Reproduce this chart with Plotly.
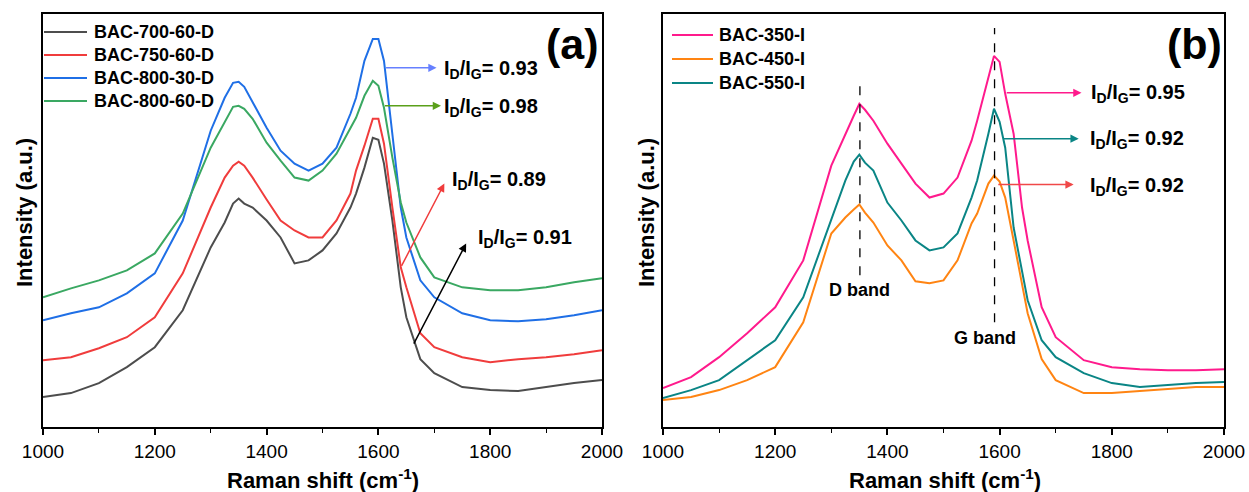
import plotly.graph_objects as go

W, H = 1249, 492

# ---------------- data (arbitrary intensity units) ----------------
xa = [1000, 1050, 1100, 1150, 1200, 1250, 1300, 1325, 1340, 1350, 1360, 1375, 1400, 1425, 1450,
      1475, 1500, 1525, 1550, 1560, 1575, 1590, 1600, 1610, 1625, 1640, 1650, 1675, 1700, 1750,
      1800, 1850, 1900, 1950, 2000]
bac_700_60_d = [30, 34, 44, 60, 80, 117, 180, 205, 224, 229, 224, 220, 207, 190, 164,
                167, 177, 194, 220, 234, 260, 290, 288, 264, 207, 140, 110, 68, 54, 40,
                37, 36, 40, 44, 47]
bac_750_60_d = [67, 70, 79, 90, 110, 154, 220, 250, 262, 266, 262, 250, 228, 207, 197,
                190, 190, 207, 234, 257, 282, 309, 309, 284, 220, 160, 140, 94, 80, 70,
                65, 68, 70, 73, 77]
bac_800_30_d = [107, 114, 120, 134, 154, 207, 297, 330, 345, 346, 341, 326, 300, 277, 264,
                257, 264, 280, 314, 330, 367, 389, 389, 367, 290, 220, 190, 147, 130, 114,
                107, 106, 108, 112, 117]
bac_800_60_d = [130, 139, 147, 157, 174, 214, 280, 306, 321, 322, 319, 309, 285, 267, 250,
                247, 257, 274, 300, 310, 332, 347, 342, 320, 270, 225, 205, 170, 150, 140,
                137, 137, 140, 145, 149]

xb = [1000, 1050, 1100, 1150, 1200, 1250, 1300, 1325, 1340, 1350, 1360, 1375, 1400, 1425, 1450,
      1475, 1500, 1525, 1550, 1560, 1580, 1590, 1600, 1610, 1625, 1640, 1650, 1675, 1700, 1750,
      1800, 1850, 1900, 1950, 2000]
bac_350_i = [39, 50, 70, 94, 120, 167, 262, 294, 312, 324, 318, 307, 284, 264, 244,
             230, 234, 250, 287, 307, 350, 372, 366, 334, 294, 220, 187, 120, 90, 67,
             60, 58, 57, 57, 58]
bac_450_i = [27, 30, 37, 47, 60, 105, 194, 210, 218, 223, 215, 205, 182, 167, 146,
             144, 147, 167, 204, 214, 244, 252, 246, 230, 187, 144, 114, 68, 47, 34,
             34, 36, 38, 40, 40]
bac_550_i = [29, 37, 47, 67, 87, 130, 207, 247, 266, 273, 265, 257, 225, 207, 187,
             177, 180, 194, 230, 247, 294, 319, 306, 280, 200, 154, 127, 87, 70, 54,
             44, 40, 42, 44, 45]

names_a = ["BAC-700-60-D", "BAC-750-60-D", "BAC-800-30-D", "BAC-800-60-D"]
colors_a = ["#4d4d4d", "#f03c3c", "#1f6fe6", "#3aa862"]
series_a = [bac_700_60_d, bac_750_60_d, bac_800_30_d, bac_800_60_d]

names_b = ["BAC-350-I", "BAC-450-I", "BAC-550-I"]
colors_b = ["#ff1a8c", "#ff8412", "#0a8585"]
series_b = [bac_350_i, bac_450_i, bac_550_i]

ratios_a = ["0.93", "0.98", "0.89", "0.91"]
ratios_b = ["0.95", "0.92", "0.92"]

# ---------------- figure ----------------
fig = go.Figure()
for n, c, s in zip(names_a, colors_a, series_a):
    fig.add_trace(go.Scatter(x=xa, y=s, name=n, mode="lines", line=dict(color=c, width=2),
                             xaxis="x", yaxis="y", showlegend=False))
for n, c, s in zip(names_b, colors_b, series_b):
    fig.add_trace(go.Scatter(x=xb, y=s, name=n, mode="lines", line=dict(color=c, width=2),
                             xaxis="x2", yaxis="y2", showlegend=False))


def px_x(p):
    return p / W


def px_y(p):
    return 1 - p / H


FONT = "Arial, Liberation Sans, sans-serif"
ydom = [px_y(427), px_y(14)]
axis_common = dict(range=[1000, 2000], dtick=200, tick0=1000, ticks="outside", ticklen=6, tickwidth=1.5,
                   tickcolor="black", showline=True, mirror=True, linewidth=2, linecolor="black",
                   showgrid=False, zeroline=False, automargin=False,
                   tickfont=dict(family=FONT, size=19, color="black"),
                   minor=dict(dtick=100, ticks="outside", ticklen=4, tickwidth=1.2, tickcolor="black"))
yaxis_common = dict(range=[0, 414], showticklabels=False, ticks="", showline=True, mirror=True,
                    linewidth=2, linecolor="black", showgrid=False, zeroline=False, automargin=False,
                    domain=ydom)

fig.update_layout(
    width=W, height=H, margin=dict(l=0, r=0, t=0, b=0),
    plot_bgcolor="white", paper_bgcolor="white",
    font=dict(family=FONT, color="black"),
    xaxis=dict(domain=[px_x(43), px_x(602)], anchor="y", **axis_common),
    yaxis=dict(anchor="x", **yaxis_common),
    xaxis2=dict(domain=[px_x(663), px_x(1224)], anchor="y2", **axis_common),
    yaxis2=dict(anchor="x2", **yaxis_common),
    showlegend=False,
)

bold = dict(family=FONT, color="black", weight="bold")

# legends (drawn by hand to match the original sample length)
leg_a_rows = [32, 55, 78, 101]
for n, c, yy in zip(names_a, colors_a, leg_a_rows):
    fig.add_shape(type="line", xref="paper", yref="paper", x0=px_x(44), x1=px_x(87),
                  y0=px_y(yy), y1=px_y(yy), line=dict(color=c, width=2))
    fig.add_annotation(xref="paper", yref="paper", x=px_x(92), y=px_y(yy), text=n, showarrow=False,
                       xanchor="left", yanchor="middle", font=dict(size=18, **bold))
leg_b_rows = [35, 59, 83]
for n, c, yy in zip(names_b, colors_b, leg_b_rows):
    fig.add_shape(type="line", xref="paper", yref="paper", x0=px_x(672), x1=px_x(713),
                  y0=px_y(yy), y1=px_y(yy), line=dict(color=c, width=2))
    fig.add_annotation(xref="paper", yref="paper", x=px_x(717), y=px_y(yy), text=n, showarrow=False,
                       xanchor="left", yanchor="middle", font=dict(size=18, **bold))

# axis titles
for cx in [323, 945]:
    fig.add_annotation(xref="paper", yref="paper", x=px_x(cx), y=px_y(479),
                       text="Raman shift (cm<sup>-1</sup>)", showarrow=False,
                       font=dict(size=22, **bold), xanchor="center", yanchor="middle")
for cx in [25, 647]:
    fig.add_annotation(xref="paper", yref="paper", x=px_x(cx), y=px_y(213),
                       text="Intensity (a.u.)", showarrow=False, textangle=-90,
                       font=dict(size=22, **bold), xanchor="center", yanchor="middle")

# panel labels
fig.add_annotation(xref="paper", yref="paper", x=px_x(572), y=px_y(44), text="(a)", showarrow=False,
                   font=dict(size=43, **bold), xanchor="center", yanchor="middle")
fig.add_annotation(xref="paper", yref="paper", x=px_x(1194), y=px_y(44), text="(b)", showarrow=False,
                   font=dict(size=43, **bold), xanchor="center", yanchor="middle")


def ratio_text(r):
    return "I<sub>D</sub>/I<sub>G</sub>= " + r


# panel (a) arrows: (tail x, tail y, head x, head y, colour, text x, text y)
arrows_a = [
    (1611, 360, 1704, 360, "#6680ff", 1714, 358),
    (1609, 322, 1712, 322, "#5aa01a", 1714, 320),
    (1640, 160, 1718, 244, "#f03c3c", 1728, 247),
    (1662, 82, 1757, 184, "#000000", 1775, 189),
]
for (tx, ty, hx, hy, col, lx, ly), r in zip(arrows_a, ratios_a):
    fig.add_annotation(xref="x", yref="y", axref="x", ayref="y", x=hx, y=hy, ax=tx, ay=ty,
                       text="", showarrow=True, arrowhead=2, arrowsize=1.1, arrowwidth=1.5, arrowcolor=col)
    fig.add_annotation(xref="x", yref="y", x=lx, y=ly, text=ratio_text(r), showarrow=False,
                       xanchor="left", yanchor="middle", font=dict(size=20, **bold))

arrows_b = [
    (1610, 335, 1746, 335, "#ff1a8c", 1759, 334),
    (1604, 289, 1741, 289, "#0a8585", 1758, 288),
    (1595, 243, 1732, 243, "#f04848", 1758, 241),
]
for (tx, ty, hx, hy, col, lx, ly), r in zip(arrows_b, ratios_b):
    fig.add_annotation(xref="x2", yref="y2", axref="x2", ayref="y2", x=hx, y=hy, ax=tx, ay=ty,
                       text="", showarrow=True, arrowhead=2, arrowsize=1.1, arrowwidth=1.5, arrowcolor=col)
    fig.add_annotation(xref="x2", yref="y2", x=lx, y=ly, text=ratio_text(r), showarrow=False,
                       xanchor="left", yanchor="middle", font=dict(size=20, **bold))

# band markers
fig.add_shape(type="line", xref="x2", yref="y2", x0=1351, x1=1351, y0=152, y1=350,
              line=dict(color="black", width=1.3, dash="dash"))
fig.add_shape(type="line", xref="x2", yref="y2", x0=1591, x1=1591, y0=105, y1=400,
              line=dict(color="black", width=1.3, dash="dash"))
fig.add_annotation(xref="x2", yref="y2", x=1350, y=137, text="D band", showarrow=False,
                   font=dict(size=18, **bold), xanchor="center", yanchor="middle")
fig.add_annotation(xref="x2", yref="y2", x=1574, y=89, text="G band", showarrow=False,
                   font=dict(size=18, **bold), xanchor="center", yanchor="middle")

# remove the default 8px page margin so the 1249x492 figure fills the window exactly
fig.write_html("out.html", config={"displayModeBar": False},
               post_script="document.body.style.margin='0';document.body.style.overflow='hidden';")
